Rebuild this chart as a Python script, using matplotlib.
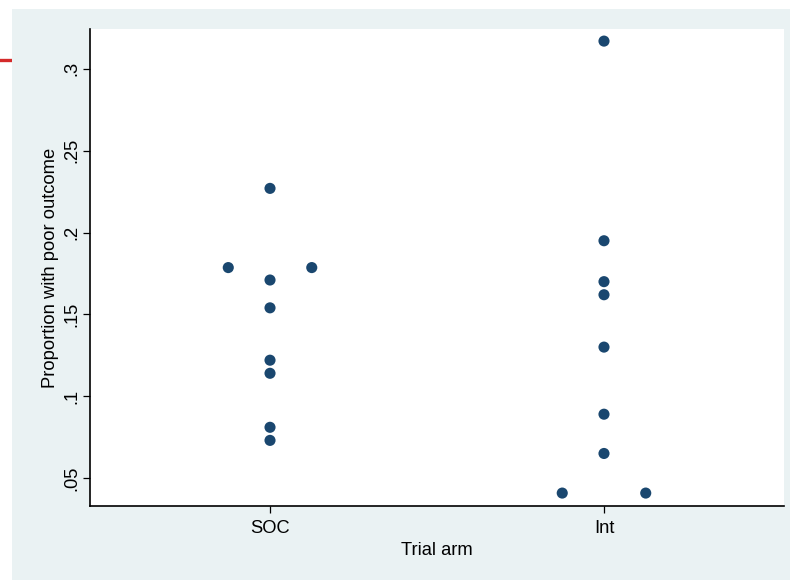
import matplotlib

matplotlib.use("Agg")
import matplotlib.pyplot as plt
import numpy as np
from matplotlib.lines import Line2D
from matplotlib.patches import Rectangle

plt.rcParams["font.family"] = ["Liberation Sans", "DejaVu Sans"]

arm_labels = ["SOC", "Int"]
soc_values = [0.227, 0.1786, 0.1786, 0.171, 0.154, 0.122, 0.114, 0.081, 0.073]
int_values = [0.317, 0.195, 0.170, 0.162, 0.130, 0.089, 0.065, 0.0408, 0.0408]
y_ticks = [0.05, 0.10, 0.15, 0.20, 0.25, 0.30]
y_tick_labels = [".05", ".1", ".15", ".2", ".25", ".3"]

navy = "#1a476f"
bg = "#eaf2f3"


def spread_duplicates(center, values, step=0.125):
    # ties sit side by side, like a jittered dot plot
    xs = []
    values = np.round(np.asarray(values, dtype=float), 4)
    for i, v in enumerate(values):
        same = np.flatnonzero(values == v)
        k = int(np.flatnonzero(same == i)[0])
        n = same.size
        xs.append(center + (k - (n - 1) / 2) * 2 * step if n > 1 else center)
    return np.array(xs)


fig = plt.figure(figsize=(7.9, 5.8), dpi=100)
fig.patch.set_facecolor("white")
fig.patches.append(Rectangle((12 / 790, 0), 1 - 12 / 790, 1 - 9 / 580,
                             transform=fig.transFigure, facecolor=bg,
                             edgecolor="none", zorder=-10))
fig.lines.append(Line2D([0, 12 / 790], [1 - 60 / 580, 1 - 60 / 580],
                        transform=fig.transFigure, color="#d42a2a",
                        linewidth=2.4, zorder=-10))

ax = fig.add_axes([90 / 790, 74 / 580, 694 / 790, 477 / 580])
ax.set_facecolor("white")

for pos, vals in zip([1, 2], [soc_values, int_values]):
    ax.scatter(spread_duplicates(pos, vals), vals, s=64, color=navy,
               edgecolors="none", zorder=3)

ax.set_xlim(0.461, 2.539)
ax.set_ylim(0.0329, 0.3244)
ax.set_xticks([1, 2])
ax.set_xticklabels(arm_labels)
ax.set_yticks(y_ticks)
ax.set_yticklabels(y_tick_labels, rotation=90, va="center")

for side in ["top", "right"]:
    ax.spines[side].set_visible(False)
for side in ["left", "bottom"]:
    ax.spines[side].set_linewidth(1.2)
    ax.spines[side].set_color("black")

ax.tick_params(axis="both", length=5, width=0.9, labelsize=13.2)
ax.tick_params(axis="x", pad=5)
ax.tick_params(axis="y", pad=2)
ax.set_xlabel("Trial arm", fontsize=13.2, labelpad=4)
ax.set_ylabel("Proportion with poor outcome", fontsize=13.2, labelpad=3)

fig.savefig("out.png", dpi=100, facecolor=fig.get_facecolor())
